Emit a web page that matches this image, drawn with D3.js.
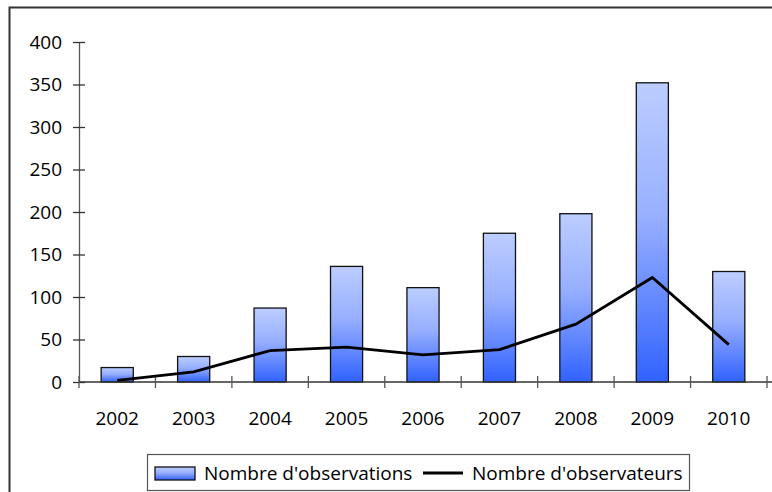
<!DOCTYPE html>
<html>
<head>
<meta charset="utf-8">
<script src="https://cdn.jsdelivr.net/npm/d3@7"></script>
<style>
  body { margin: 0; background: #fff; }
  text { font-family: 'Open Sans', sans-serif; fill: #000; }
</style>
</head>
<body>
<svg width="772" height="492"></svg>
<script>
// data
var years = ['2002', '2003', '2004', '2005', '2006', '2007', '2008', '2009', '2010'];
var observations = [17, 30, 87, 136, 111, 175, 198, 352, 130];
var observers = [2, 12, 37, 41, 32, 38, 68, 123, 44];
var yTicks = [0, 50, 100, 150, 200, 250, 300, 350, 400];

var svg = d3.select('svg');
var fontSize = '19px';

// outer frame (cut by the window on the right and bottom)
svg.append('path')
    .attr('d', 'M9.5,500 V7.5 H780')
    .attr('fill', 'none')
    .attr('stroke', '#333')
    .attr('stroke-width', 2);

var x = d3.scaleBand()
    .domain(years)
    .range([79, 767]);

var y = d3.scaleLinear()
    .domain([0, 400])
    .range([382, 42]);

var defs = svg.append('defs');
var grad = defs.append('linearGradient')
    .attr('id', 'barGrad')
    .attr('x1', 0).attr('y1', 0)
    .attr('x2', 0).attr('y2', 1);
grad.append('stop').attr('offset', '0%').attr('stop-color', '#bccdff');
grad.append('stop').attr('offset', '45%').attr('stop-color', '#97afff');
grad.append('stop').attr('offset', '100%').attr('stop-color', '#3162ff');

var barW = x.bandwidth() * 0.42;

svg.selectAll('.bar')
    .data(observations)
    .enter()
    .append('rect')
    .attr('class', 'bar')
    .attr('x', (d, i) => x(years[i]) + x.bandwidth() / 2 - barW / 2)
    .attr('y', d => y(d))
    .attr('width', barW)
    .attr('height', d => y(0) - y(d))
    .attr('fill', 'url(#barGrad)')
    .attr('stroke', '#111')
    .attr('stroke-width', 1.3);

// y axis, ticks crossing the line
var yAxis = d3.axisLeft(y)
    .tickValues(yTicks)
    .tickSizeInner(6)
    .tickSizeOuter(0)
    .tickPadding(11);

var yG = svg.append('g')
    .attr('transform', 'translate(79,0)')
    .call(yAxis);
yG.selectAll('.tick line').attr('x2', 6).attr('x1', -6);
yG.select('.domain').attr('stroke', '#555').attr('stroke-width', 1.3);
yG.selectAll('.tick line').attr('stroke', '#333').attr('stroke-width', 1.3);
yG.selectAll('text')
    .style('font-size', fontSize)
    .style('font-family', "'Open Sans', sans-serif");

// x axis: ticks on the band edges
var xG = svg.append('g').attr('class', 'x-axis');
xG.append('line')
    .attr('x1', 79).attr('x2', 772)
    .attr('y1', y(0)).attr('y2', y(0))
    .attr('stroke', '#333')
    .attr('stroke-width', 1.3);

var edges = years.map(d => x(d)).concat([x.range()[1]]);
xG.selectAll('.xtick')
    .data(edges)
    .enter()
    .append('line')
    .attr('x1', d => d).attr('x2', d => d)
    .attr('y1', y(0) - 6).attr('y2', y(0) + 6)
    .attr('stroke', '#555')
    .attr('stroke-width', 1.3);

xG.selectAll('.xlabel')
    .data(years)
    .enter()
    .append('text')
    .attr('x', d => x(d) + x.bandwidth() / 2)
    .attr('y', 425)
    .attr('text-anchor', 'middle')
    .style('font-size', fontSize)
    .text(d => d);

// observers line
var line = d3.line()
    .x((d, i) => x(years[i]) + x.bandwidth() / 2)
    .y(d => y(d));

svg.append('path')
    .datum(observers)
    .attr('d', line)
    .attr('fill', 'none')
    .attr('stroke', '#000')
    .attr('stroke-width', 2.8);

// legend
var legend = svg.append('g');
legend.append('rect')
    .attr('x', 147.5).attr('y', 454.5)
    .attr('width', 542).attr('height', 36)
    .attr('fill', '#fff')
    .attr('stroke', '#555')
    .attr('stroke-width', 1.2);

legend.append('rect')
    .attr('x', 155).attr('y', 467)
    .attr('width', 40).attr('height', 13)
    .attr('fill', 'url(#barGrad)')
    .attr('stroke', '#111')
    .attr('stroke-width', 1.3);

legend.append('text')
    .attr('x', 204).attr('y', 480)
    .style('font-size', fontSize)
    .text("Nombre d'observations");

legend.append('line')
    .attr('x1', 423).attr('x2', 463)
    .attr('y1', 473).attr('y2', 473)
    .attr('stroke', '#000')
    .attr('stroke-width', 2.8);

legend.append('text')
    .attr('x', 472).attr('y', 480)
    .style('font-size', fontSize)
    .text("Nombre d'observateurs");
</script>
</body>
</html>
